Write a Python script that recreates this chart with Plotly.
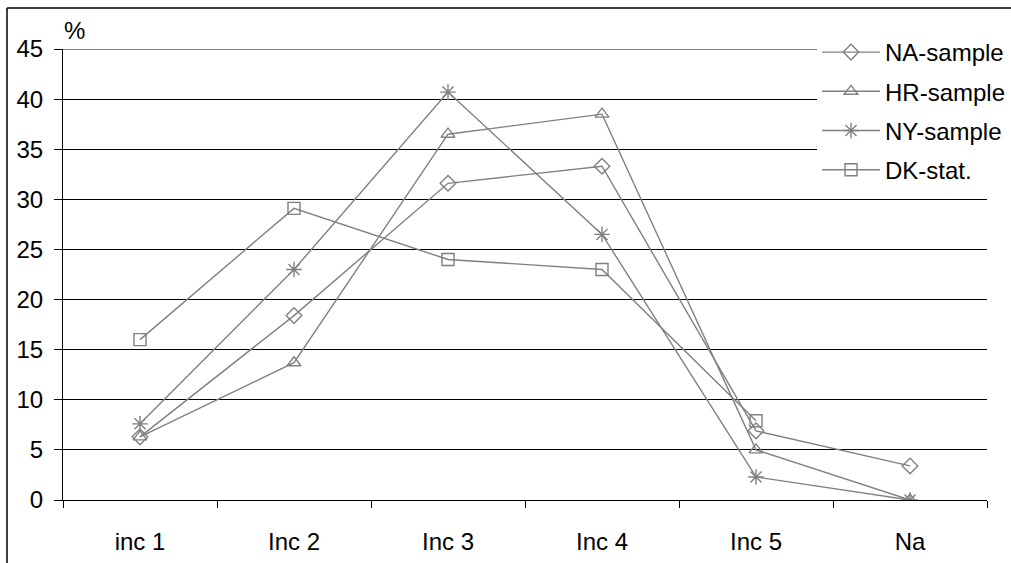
import plotly.graph_objects as go

categories = ["inc 1", "Inc 2", "Inc 3", "Inc 4", "Inc 5", "Na"]
na_sample = [6.3, 18.4, 31.6, 33.3, 6.9, 3.4]
hr_sample = [6.3, 13.7, 36.5, 38.5, 5.0, 0.0]
ny_sample = [7.6, 23.0, 40.7, 26.5, 2.3, 0.0]
dk_stat = [16.0, 29.1, 24.0, 23.0, 7.9, None]
y_ticks = [0, 5, 10, 15, 20, 25, 30, 35, 40, 45]

series = [
    ("NA-sample", na_sample, "diamond-open", 12),
    ("HR-sample", hr_sample, "triangle-up-open", 12),
    ("NY-sample", ny_sample, "asterisk-open", 13),
    ("DK-stat.", dk_stat, "square-open", 12),
]

GRAY = "#808080"
FONT = "Liberation Sans, Arial, sans-serif"
FS = 24

fig = go.Figure()
for i, (name, vals, sym, sz) in enumerate(series):
    fig.add_trace(go.Scatter(
        x=categories, y=vals, name=name, mode="lines+markers",
        legendgroup=f"g{i}",
        line=dict(color=GRAY, width=1.4),
        marker=dict(symbol=sym, size=sz, color=GRAY, line=dict(color=GRAY, width=1.4)),
        connectgaps=False,
    ))

W, H = 1011, 563
L, R, T, B = 63, 24, 49, 63
pw, ph = W - L - R, H - T - B

def px(x):
    return (x - L) / pw

def py(y):
    return (H - B - y) / ph

fig.update_layout(
    width=W, height=H,
    margin=dict(l=L, r=R, t=T, b=B, autoexpand=False),
    paper_bgcolor="white", plot_bgcolor="white",
    font=dict(family=FONT, size=FS, color="black"),
    showlegend=True,
    legend=dict(
        x=px(817), y=py(30), xanchor="left", yanchor="top",
        bgcolor="white", borderwidth=0,
        font=dict(family=FONT, size=FS, color="black"),
        tracegroupgap=5, traceorder="grouped",
        itemwidth=58,
    ),
    xaxis=dict(
        type="category", categoryorder="array", categoryarray=categories,
        range=[-0.5, 5.5],
        showline=True, linecolor="black", linewidth=1,
        ticks="outside", tickson="boundaries", ticklen=7, tickcolor="black",
        showgrid=False, zeroline=False,
        ticklabelstandoff=20,
        tickfont=dict(family=FONT, size=FS, color="black"),
    ),
    yaxis=dict(
        range=[0, 45], tickvals=y_ticks,
        showline=True, linecolor="black", linewidth=1,
        ticks="outside", ticklen=8, tickcolor="black",
        showgrid=True, gridcolor="black", gridwidth=1,
        zeroline=False,
        ticklabelstandoff=6,
        tickfont=dict(family=FONT, size=FS, color="black"),
    ),
    shapes=[
        dict(type="line", xref="paper", yref="y", x0=0, x1=1, y0=45, y1=45,
             layer="below", line=dict(color="black", width=1)),
        dict(type="line", xref="paper", yref="paper", x0=px(7), x1=px(7), y0=py(8), y1=py(563),
             line=dict(color="black", width=1.5)),
        dict(type="line", xref="paper", yref="paper", x0=px(7), x1=px(1011), y0=py(8), y1=py(8),
             line=dict(color="black", width=1.5)),
    ],
    annotations=[
        dict(text="%", xref="paper", yref="paper", x=px(62), y=py(46), xanchor="left", yanchor="bottom",
             showarrow=False, font=dict(family=FONT, size=FS, color="black")),
    ],
)

fig.write_html("out.html")
